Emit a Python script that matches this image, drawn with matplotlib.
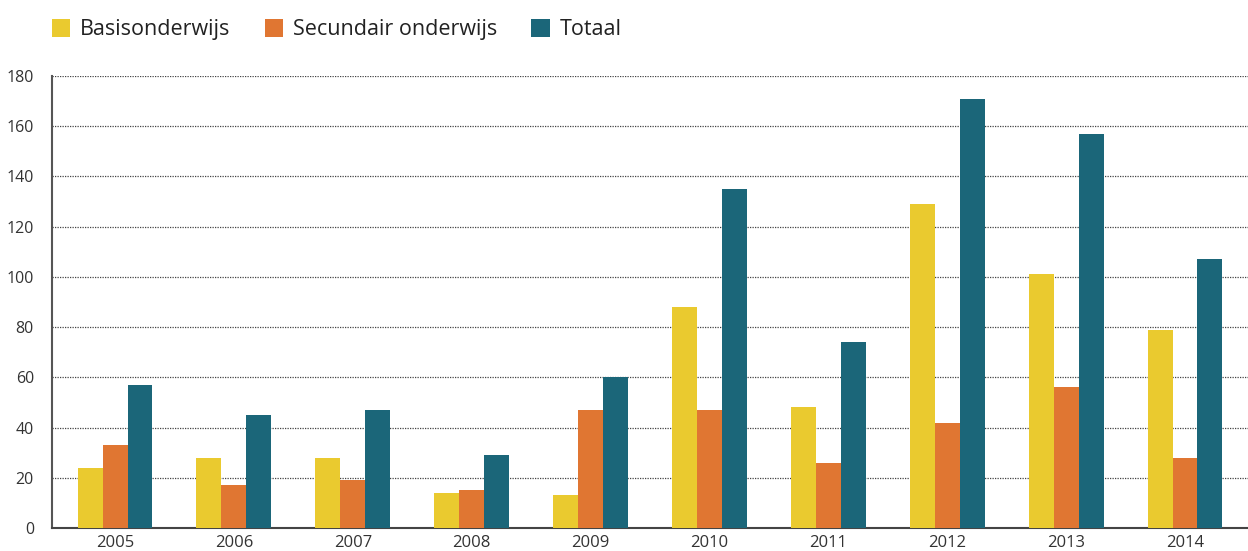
import matplotlib.pyplot as plt
import numpy as np

plt.rcParams['font.family'] = ['Open Sans', 'DejaVu Sans']

years = ['2005', '2006', '2007', '2008', '2009', '2010', '2011', '2012', '2013', '2014']
basis = [24, 28, 28, 14, 13, 88, 48, 129, 101, 79]
secundair = [33, 17, 19, 15, 47, 47, 26, 42, 56, 28]
totaal = [57, 45, 47, 29, 60, 135, 74, 171, 157, 107]

series = [
    ('Basisonderwijs', basis, '#EACA2F'),
    ('Secundair onderwijs', secundair, '#E07632'),
    ('Totaal', totaal, '#1B6679'),
]

fig = plt.figure(figsize=(12.48, 5.51), dpi=100)
ax = fig.add_axes([0.0417, 0.0417, 0.9583, 0.8204])

x = np.arange(len(years))
w = 0.21
for i, (name, vals, col) in enumerate(series):
    ax.bar(x + (i - 1) * w, vals, width=w, color=col, label=name, zorder=3)

ax.set_xlim(-0.53, 9.53)
ax.set_ylim(0, 180)
ax.set_yticks(range(0, 181, 20))
ax.set_xticks(x)
ax.set_xticklabels(years)
ax.tick_params(length=0, colors='#333333')
ax.tick_params(axis='x', labelsize=12, pad=5)
ax.tick_params(axis='y', labelsize=11.5, pad=13)

ax.grid(axis='y', linestyle=(0, (1, 1)), color='#444444', linewidth=0.9, zorder=0)
for s in ['top', 'right']:
    ax.spines[s].set_visible(False)
ax.spines['left'].set_color('#555555')
ax.spines['left'].set_linewidth(1.5)
ax.spines['bottom'].set_color('#444444')
ax.spines['bottom'].set_linewidth(1.5)

fig.legend(loc='upper left', bbox_to_anchor=(0.026, 1.0), ncol=3, frameon=False,
           fontsize=15.5, handlelength=0.85, handleheight=0.85, handletextpad=0.45,
           columnspacing=1.6, labelcolor='#222222')

fig.savefig('out.png', dpi=100)
